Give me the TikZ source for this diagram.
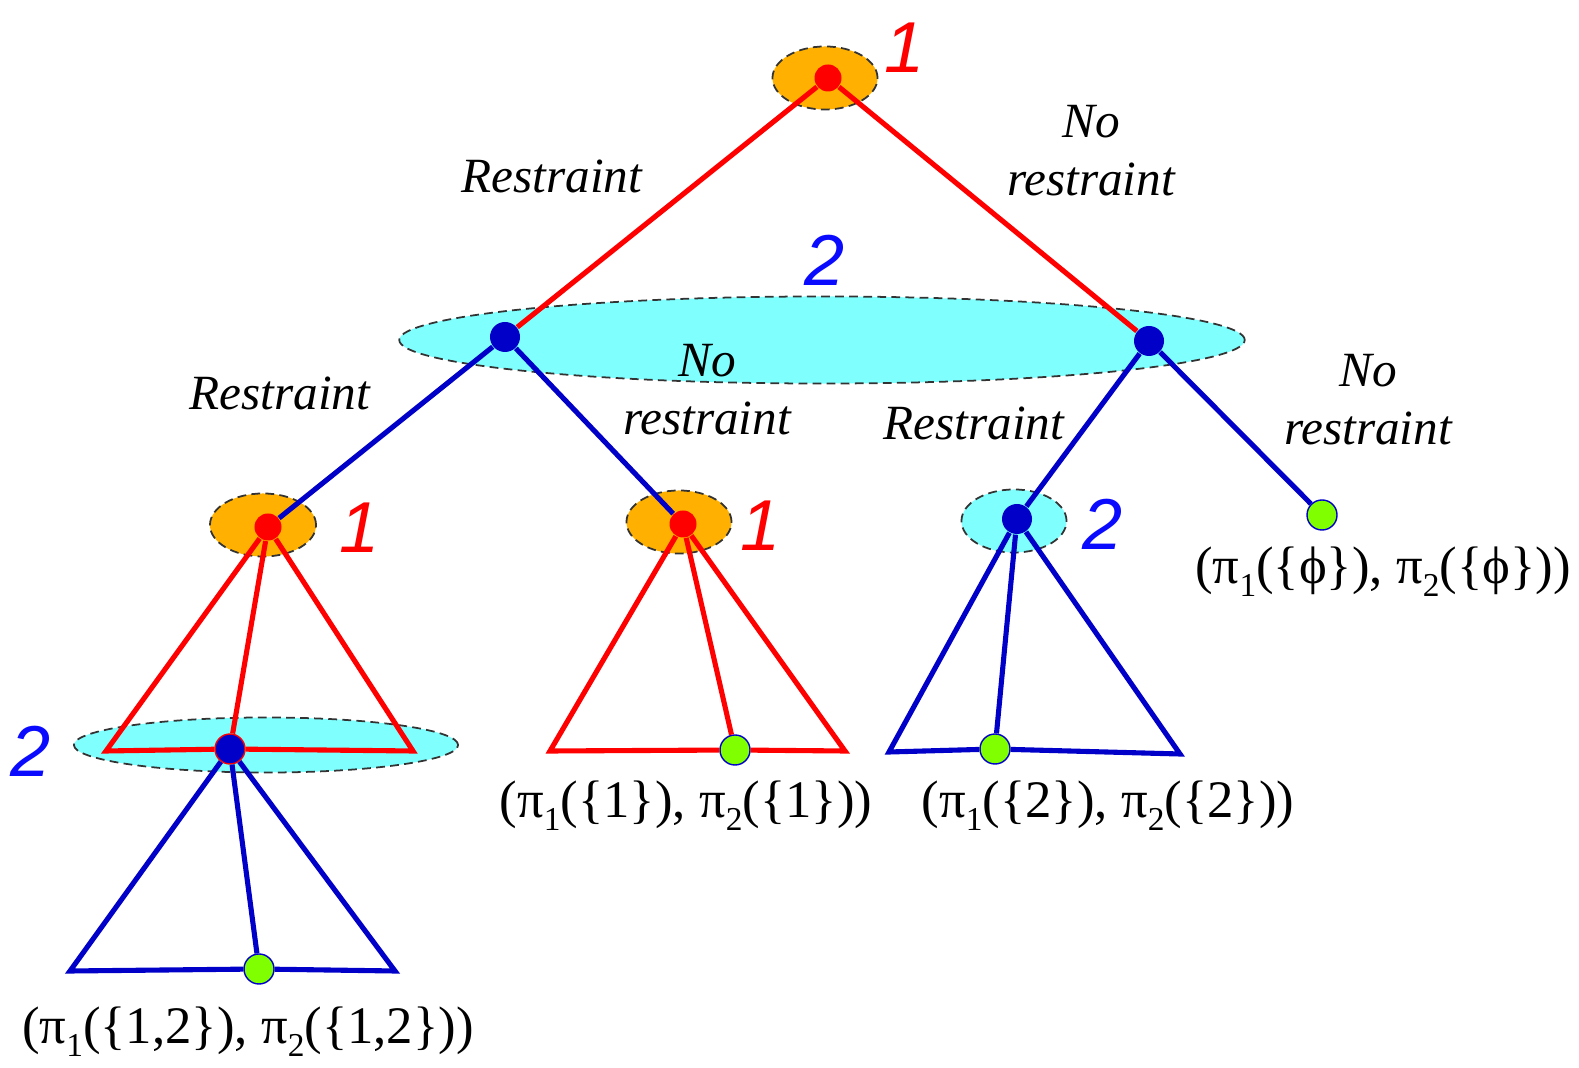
\documentclass[tikz,border=0pt]{standalone}
\usepackage{fontspec}
\setmainfont{Liberation Serif}
\newfontfamily\zahlfont{Liberation Sans}
\usetikzlibrary{shapes.geometric}

\definecolor{dblau}{RGB}{0,0,200}
\definecolor{hblau}{RGB}{10,10,255}
\definecolor{korange}{RGB}{255,176,0}
\definecolor{kcyan}{RGB}{128,255,255}
\definecolor{kgruen}{RGB}{128,255,0}

\newcommand{\spieler}[1]{\raisebox{-3.6pt}{\fontsize{9.5}{10}\selectfont #1}}

\tikzset{
    rpunkt/.style={circle, fill=red, inner sep=0pt, minimum size=0.27cm},
    bpunkt/.style={circle, fill=dblau, inner sep=0pt, minimum size=0.3cm},
    blatt/.style={circle, fill=kgruen, draw=dblau, line width=0.4pt, inner sep=0pt, minimum size=0.3cm},
    menge/.style={ellipse, draw=black!80, dash pattern=on 2.5pt off 1.5pt, line width=0.5pt, inner sep=0pt},
    zahl/.style={font=\zahlfont\itshape\fontsize{20.5}{20}\selectfont},
    zug/.style={font=\itshape\fontsize{14}{16.5}\selectfont, align=center},
    ergebnis/.style={font=\fontsize{15}{17}\selectfont},
    rkante/.style={draw=red, line width=1.45pt},
    bkante/.style={draw=dblau, line width=1.45pt}
}

\begin{document}
\begin{tikzpicture}[x=0.01cm, y=-0.01cm]
    \useasboundingbox (0,0) rectangle (1579,1068);
    % Informationsmengen
    \path node[menge, fill=korange, minimum width=1.05cm, minimum height=0.63cm] (M1) at (825,78) {}
        node[menge, fill=kcyan, minimum width=8.45cm, minimum height=0.87cm] (M2) at (822,340) {}
        node[menge, fill=korange, minimum width=1.06cm, minimum height=0.63cm] (M3) at (263,525) {}
        node[menge, fill=korange, minimum width=1.05cm, minimum height=0.63cm] (M4) at (679,522) {}
        node[menge, fill=kcyan, minimum width=1.05cm, minimum height=0.63cm] (M5) at (1014,521) {}
        node[menge, fill=kcyan, minimum width=3.84cm, minimum height=0.55cm] (M6) at (266,745) {};
    % Knoten
    \path node[rpunkt] (R) at (828,78) {}
        node[bpunkt] (L) at (505,337) {}
        node[bpunkt] (N) at (1149,341) {}
        node[rpunkt] (LL) at (268,527) {}
        node[rpunkt] (LN) at (683,524) {}
        node[bpunkt] (NL) at (1017,519) {}
        node[blatt] (NN) at (1322,515) {}
        node[bpunkt, draw=red, line width=0.4pt] (LLL) at (230,749) {}
        node[blatt] (LNx) at (735,750) {}
        node[blatt] (NLx) at (995,749) {}
        node[blatt] (LLLx) at (259,969) {};
    \coordinate (a1) at (106,751);
    \coordinate (a2) at (413,751);
    \coordinate (b1) at (70,971);
    \coordinate (b2) at (395,971);
    \coordinate (c1) at (550,751);
    \coordinate (c2) at (845,751);
    \coordinate (d1) at (889,752);
    \coordinate (d2) at (1180,754);
    % Kanten
    \draw[rkante] (R) -- (L);
    \draw[rkante] (R) -- (N);
    \draw[bkante] (L) -- (LL);
    \draw[bkante] (L) -- (LN);
    \draw[bkante] (N) -- (NL);
    \draw[bkante] (N) -- (NN);
    \draw[rkante] (LL) -- (a1) -- (LLL) -- (a2) -- (LL);
    \draw[rkante] (LL) -- (LLL);
    \draw[bkante] (LLL) -- (b1) -- (LLLx) -- (b2) -- (LLL);
    \draw[bkante] (LLL) -- (LLLx);
    \draw[rkante] (LN) -- (c1) -- (LNx) -- (c2) -- (LN);
    \draw[rkante] (LN) -- (LNx);
    \draw[bkante] (NL) -- (d1) -- (NLx) -- (d2) -- (NL);
    \draw[bkante] (NL) -- (NLx);
    % Spieler
    \path node[zahl, text=red] (s1) at (905,48) {1}
        node[zahl, text=hblau] (s2) at (825,260) {2}
        node[zahl, text=red] (s3) at (360,528) {1}
        node[zahl, text=red] (s4) at (761,526) {1}
        node[zahl, text=hblau] (s5) at (1103,524) {2}
        node[zahl, text=hblau] (s6) at (31,751) {2};
    % Zuege
    \path node[zug] (z1) at (552,176) {Restraint}
        node[zug] (z2) at (1091,151) {No\\restraint}
        node[zug] (z3) at (280,393) {Restraint}
        node[zug] (z4) at (707,390) {No\\restraint}
        node[zug] (z5) at (974,423) {Restraint}
        node[zug] (z6) at (1368,400) {No\\restraint};
    % Auszahlungen
    \path node[ergebnis] (e1) at (1383,572) {(π\spieler{1}(\{ϕ\}), π\spieler{2}(\{ϕ\}))}
        node[ergebnis] (e2) at (686,806) {(π\spieler{1}(\{1\}), π\spieler{2}(\{1\}))}
        node[ergebnis] (e3) at (1108,806) {(π\spieler{1}(\{2\}), π\spieler{2}(\{2\}))}
        node[ergebnis] (e4) at (248,1032) {(π\spieler{1}(\{1,2\}), π\spieler{2}(\{1,2\}))};
\end{tikzpicture}
\end{document}
